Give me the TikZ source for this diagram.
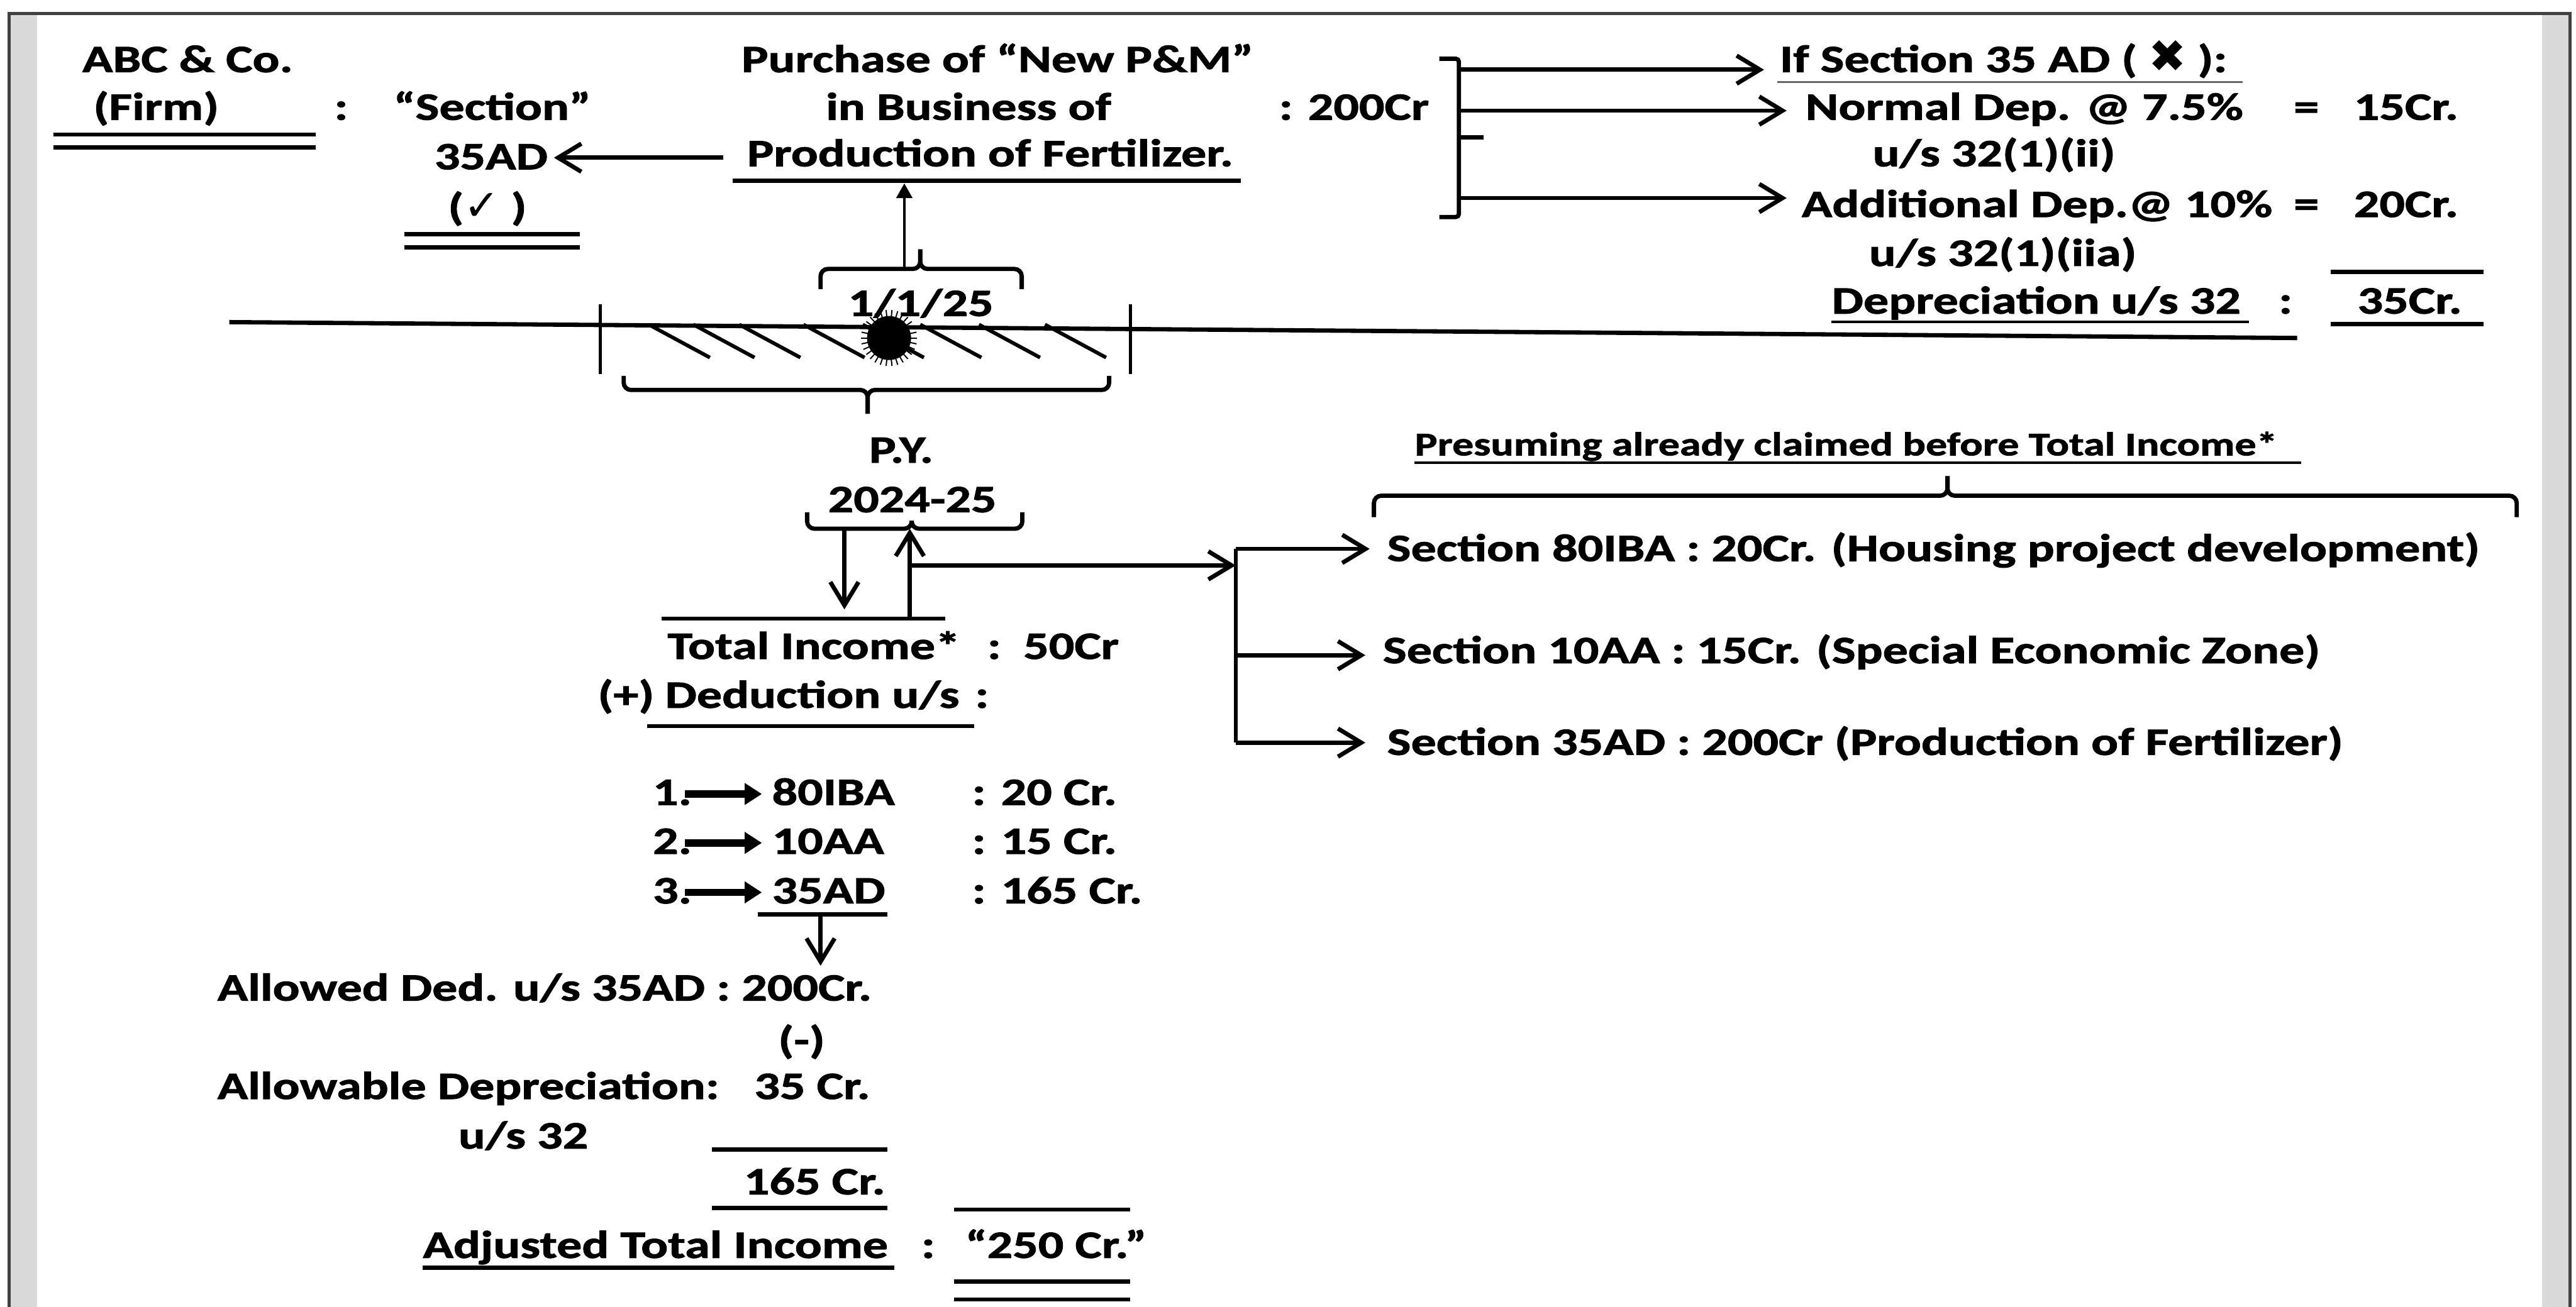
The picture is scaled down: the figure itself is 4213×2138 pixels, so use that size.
\documentclass[tikz,border=0pt]{standalone}
\usepackage{fontspec}
\usetikzlibrary{arrows.meta}
\newfontfamily\mainf{Carlito}[FakeStretch=1.3,FakeBold=1.6]
\newfontfamily\symf{DejaVu Sans}
\newcommand\txtf{\mainf\bfseries\fontsize{18pt}{21pt}\selectfont}
\newcommand\smallf{\mainf\bfseries\fontsize{15.3pt}{18pt}\selectfont}
\begin{document}
\begin{tikzpicture}[x=0.01cm,y=-0.01cm,
  t/.style={anchor=base west,inner sep=0pt,font=\txtf},
  tc/.style={anchor=base,inner sep=0pt,font=\txtf},
  ts/.style={anchor=base west,inner sep=0pt,font=\smallf},
  ln/.style={line width=0.07cm},
  lnthin/.style={line width=0.04cm},
  bracestyle/.style={line width=0.07cm,rounded corners=0.12cm},
  arr/.style={line width=0.07cm,-{Straight Barb[length=0.38cm,width=0.46cm]}},
  fatarr/.style={line width=0.12cm,-{Triangle[length=0.28cm,width=0.34cm]}},
  thinarr/.style={line width=0.035cm,-{Triangle[length=0.24cm,width=0.26cm]}}]
\useasboundingbox (0,0) rectangle (4213,2138);
\fill[white] (0,0) rectangle (4213,2138);
% frame
\fill[black!15] (15,22) rectangle (61,2138);
\fill[black!15] (4157,22) rectangle (4203,2138);
\draw[line width=0.045cm,black!75] (15,2138) -- (15,22) -- (4203,22) -- (4203,2138);

% ---------- top left ----------
\node[t] (abc) at (134,118) {ABC \& Co.};
\node[t] (firm) at (152,196) {(Firm)};
\draw[ln] (87,220) -- (516,220);
\draw[ln] (87,241) -- (516,241);
\node[tc] (col1) at (558,196) {:};
\node[t] (sect) at (643,196) {“Section”};
\node[t] (s35) at (710,277) {35AD};
\node[t] (tick) at (732,360) {({\symf\bfseries\fontsize{20pt}{20pt}\selectfont ✓} )};
\draw[ln] (661,383) -- (948,383);
\draw[ln] (661,405) -- (948,405);

% ---------- purchase ----------
\node[t] (pur) at (1212,118) {Purchase of “New P\&M”};
\node[t] (bus) at (1350,196) {in Business of};
\node[t] (amt) at (2091,196) {: 200Cr};
\node[t] (prod) at (1221,272) {Production of Fertilizer.};
\draw[ln] (1198,296) -- (2029,296);
\coordinate (pa) at (1183,258);
\coordinate (pb) at (906,258);
\draw[arr] (pa) -- (pb);

% ---------- right top ----------
\draw[ln,rounded corners=0.05cm] (2354,96) -- (2386,96) -- (2386,355) -- (2354,355);
\draw[ln] (2386,225) -- (2426,225);
\coordinate (b1) at (2386,114);
\coordinate (b2) at (2386,181);
\coordinate (b3) at (2386,324);
\node[t] (ifsec) at (2910,118) {If Section 35 AD ( {\symf\fontsize{21pt}{22pt}\selectfont ✖} ):};
\draw[line width=0.035cm,black!60] (2907,134) -- (3668,134);
\node[t] (normal) at (2952,196) {Normal Dep. @ 7.5\%};
\node[tc] (eq1) at (3772,196) {=};
\node[t] (v15) at (3849,196) {15Cr.};
\node[t] (us1) at (3062,272) {u/s 32(1)(ii)};
\node[t] (addl) at (2946,355) {Additional Dep.@ 10\%};
\node[tc] (eq2) at (3772,355) {=};
\node[t] (v20) at (3849,355) {20Cr.};
\node[t] (us2) at (3056,435) {u/s 32(1)(iia)};
\draw[ln] (3812,445) -- (4062,445);
\node[t] (dep) at (2995,513) {Depreciation u/s 32};
\draw[lnthin] (2995,527) -- (3678,527);
\node[tc] (col2) at (3738,513) {:};
\node[t] (v35) at (3855,513) {35Cr.};
\draw[ln] (3812,530) -- (4062,530);
\draw[arr] (b1) -- (2885,114);
\draw[arr] (b2) -- (2922,181);
\draw[arr] (b3) -- (2922,324);

% ---------- timeline ----------
\draw[ln] (375,527) -- (3757,553);
\draw[line width=0.055cm] (982,498) -- (982,612);
\draw[line width=0.055cm] (1849,498) -- (1849,612);
\foreach \hx in {1061,1134,1209,1314,1411,1505,1601,1709}
  \draw[line width=0.06cm] (\hx,531) -- ++(100,54);
\fill (1454,553) circle (36);
\foreach \a in {0,12,...,348}
  \draw[line width=0.02cm] (1454,553) -- +(\a:46);
\node[tc] (date) at (1506,517) {1/1/25};
% brace above date
\draw[bracestyle] (1342,473) -- (1342,440) -- (1505,440) -- (1505,408);
\draw[bracestyle] (1671,473) -- (1671,440) -- (1505,440) -- (1505,408);
\coordinate (ua) at (1479,440);
\coordinate (ub) at (1479,300);
\draw[thinarr] (ua) -- (ub);
% brace below timeline
\draw[bracestyle] (1020,615) -- (1020,638) -- (1419,638) -- (1419,677);
\draw[bracestyle] (1814,615) -- (1814,638) -- (1419,638) -- (1419,677);
\node[tc] (py) at (1474,757) {P.Y.};
\node[tc] (yr) at (1492,838) {2024-25};
\draw[bracestyle] (1320,838) -- (1320,865) -- (1491,865) -- (1491,852);
\draw[bracestyle] (1672,838) -- (1672,865) -- (1491,865) -- (1491,852);
\coordinate (da) at (1381,865);
\coordinate (db) at (1381,997);
\draw[arr] (da) -- (db);
\draw[ln] (1082,1012) -- (1546,1012);
\coordinate (ubot) at (1488,1012);
\coordinate (utop) at (1488,865);
\draw[arr] (ubot) -- (utop);
\coordinate (hj) at (1488,925);
\coordinate (hv) at (2021,925);
\draw[arr] (hj) -- (hv);

% ---------- right branch ----------
\node[ts] (pres) at (2313,745) {Presuming already claimed before Total Income*};
\draw[line width=0.04cm] (2313,757) -- (3763,757);
\draw[bracestyle] (2247,846) -- (2247,811) -- (3185,811) -- (3185,779);
\draw[bracestyle] (4116,846) -- (4116,811) -- (3185,811) -- (3185,779);
\coordinate (v1) at (2021,898);
\coordinate (v2) at (2021,1072);
\coordinate (v3) at (2021,1215);
\draw[ln] (v1) -- (v3);
\node[t] (r1) at (2268,918) {Section 80IBA : 20Cr. (Housing project development)};
\node[t] (r2) at (2261,1085) {Section 10AA : 15Cr. (Special Economic Zone)};
\node[t] (r3) at (2268,1235) {Section 35AD : 200Cr (Production of Fertilizer)};
\draw[arr] (v1) -- (2240,898);
\draw[arr] (v2) -- (2233,1072);
\draw[arr] (v3) -- (2233,1215);

% ---------- computation ----------
\node[t] (ti) at (1091,1078) {Total Income*};
\node[tc] (col3) at (1626,1078) {:};
\node[t] (v50) at (1673,1078) {50Cr};
\node[t] (plus) at (977,1158) {(+)};
\node[t] (ded) at (1087,1158) {Deduction u/s};
\node[tc] (col4) at (1606,1158) {:};
\draw[ln] (1058,1188) -- (1593,1188);

\node[t] (n1) at (1067,1317) {1.};
\node[t] (n2) at (1067,1397) {2.};
\node[t] (n3) at (1067,1478) {3.};
\coordinate (f1a) at (1120,1299); \coordinate (f1b) at (1246,1299);
\coordinate (f2a) at (1120,1379); \coordinate (f2b) at (1246,1379);
\coordinate (f3a) at (1120,1460); \coordinate (f3b) at (1246,1460);
\draw[fatarr] (f1a) -- (f1b);
\draw[fatarr] (f2a) -- (f2b);
\draw[fatarr] (f3a) -- (f3b);
\node[t] (k1) at (1262,1317) {80IBA};
\node[t] (k2) at (1262,1397) {10AA};
\node[t] (k3) at (1262,1478) {35AD};
\node[t] (a1) at (1589,1317) {: 20 Cr.};
\node[t] (a2) at (1589,1397) {: 15 Cr.};
\node[t] (a3) at (1589,1478) {: 165 Cr.};
\draw[ln] (1239,1496) -- (1451,1496);
\coordinate (ka) at (1342,1496);
\coordinate (kb) at (1342,1580);
\draw[arr] (ka) -- (kb);

\node[t] (allowed) at (355,1637) {Allowed Ded. u/s 35AD : 200Cr.};
\node[tc] (minus) at (1311,1723) {(-)};
\node[t] (allowable) at (355,1798) {Allowable Depreciation:};
\node[t] (v35b) at (1233,1798) {35 Cr.};
\node[t] (us32) at (749,1879) {u/s 32};
\draw[ln] (1164,1881) -- (1451,1881);
\node[t] (v165) at (1216,1954) {165 Cr.};
\draw[ln] (1164,1976) -- (1451,1976);
\draw[ln] (1560,1979) -- (1848,1979);
\node[t] (adj) at (691,2058) {Adjusted Total Income};
\draw[ln] (691,2074) -- (1463,2074);
\node[tc] (col5) at (1518,2058) {:};
\node[t] (v250) at (1578,2058) {“250 Cr.”};
\draw[ln] (1560,2097) -- (1848,2097);
\draw[ln] (1560,2126) -- (1848,2126);
\end{tikzpicture}
\end{document}
